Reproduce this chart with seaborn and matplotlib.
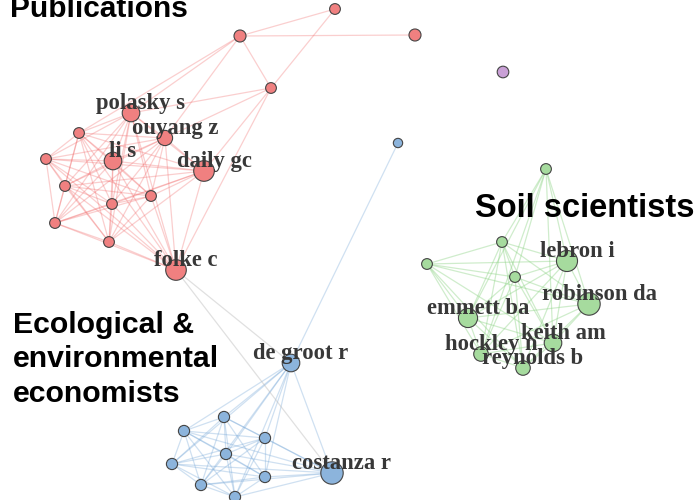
import itertools
import matplotlib
matplotlib.use("Agg")
import matplotlib.pyplot as plt
import seaborn as sns
import pandas as pd
from matplotlib.collections import LineCollection

# node layout (canvas units with y pointing down)
node_id = ["p1", "p2", "p3", "p4", "polasky s", "p5", "ouyang z", "li s", "daily gc",
           "p6", "p7", "p8", "p9", "p10", "p11", "folke c",
           "x1",
           "e0", "de groot r", "e1", "e2", "e3", "e4", "e5", "costanza r", "e6", "e7", "e8",
           "s1", "s2", "s3", "lebron i", "s4", "robinson da", "emmett ba", "keith am",
           "hockley n", "reynolds b"]
node_x = [335, 240, 415, 271, 131, 79, 165, 113, 204,
          46, 65, 151, 112, 55, 109, 176,
          503,
          398, 291, 224, 184, 265, 226, 172, 332, 265, 201, 235,
          546, 502, 427, 567, 515, 589, 468, 553, 481, 523]
node_y = [9, 36, 35, 88, 113, 133, 138, 161, 171,
          159, 186, 196, 204, 223, 242, 270,
          72,
          143, 363, 417, 431, 438, 454, 464, 473, 477, 485, 497,
          169, 242, 264, 261, 277, 304, 318, 343, 354, 368]
node_group = (["Publications"] * 16 + ["Other"] +
              ["Economists"] * 11 + ["Soil"] * 10)
node_weight = [1, 1.3, 1.3, 1, 3, 1, 2.2, 3, 4.2,
               1, 1, 1, 1, 1, 1, 4.2,
               1.2,
               0.7, 3, 1.1, 1.1, 1.1, 1.1, 1.1, 5, 1.1, 1.1, 1.1,
               1, 1, 1, 4.4, 1, 5, 3.6, 3, 2, 2]
labelled = ["polasky s", "ouyang z", "li s", "daily gc", "folke c", "de groot r",
            "costanza r", "lebron i", "robinson da", "emmett ba", "keith am",
            "hockley n", "reynolds b"]

pub_core = ["polasky s", "p5", "ouyang z", "li s", "daily gc", "p6", "p7", "p8",
            "p9", "p10", "p11", "folke c"]
pub_extra = [("p1", "p2"), ("p2", "p3"), ("p2", "p4"), ("p2", "polasky s"),
             ("p2", "ouyang z"), ("p1", "daily gc"), ("p4", "polasky s"),
             ("p4", "ouyang z"), ("p4", "folke c"), ("p2", "p5")]
eco_core = ["de groot r", "e1", "e2", "e3", "e4", "e5", "costanza r", "e6", "e7", "e8"]
eco_extra = [("e0", "de groot r")]
soil_core = ["s2", "s3", "lebron i", "s4", "robinson da", "emmett ba", "keith am",
             "hockley n", "reynolds b"]
soil_extra = [("s1", "s2"), ("s1", "lebron i"), ("s1", "s4"), ("s1", "robinson da"),
              ("s1", "emmett ba"), ("s1", "hockley n"), ("s1", "keith am")]
cross_edges = [("folke c", "de groot r"), ("folke c", "costanza r")]

palette = {"Publications": "#F08080", "Economists": "#8CB4DC",
           "Soil": "#A6DB9E", "Other": "#C9A0D6"}

nodes = pd.DataFrame({"id": node_id, "x": node_x, "y": node_y,
                      "group": node_group, "weight": node_weight}).set_index("id", drop=False)

sns.set_theme(style="white")
fig = plt.figure(figsize=(6.95, 5), dpi=100)
ax = fig.add_axes([0, 0, 1, 1])


def draw_edges(pairs, color, alpha, lw=0.9):
    segs = [[(nodes.loc[a, "x"], nodes.loc[a, "y"]), (nodes.loc[b, "x"], nodes.loc[b, "y"])]
            for a, b in pairs]
    ax.add_collection(LineCollection(segs, colors=color, alpha=alpha, linewidths=lw, zorder=1))


draw_edges(list(itertools.combinations(pub_core, 2)) + pub_extra, "#F26D6D", 0.33)
draw_edges(list(itertools.combinations(eco_core, 2)) + eco_extra, "#6FA3D6", 0.33)
draw_edges(list(itertools.combinations(soil_core, 2)) + soil_extra, "#8ED486", 0.42)
draw_edges(cross_edges, "#BBBBBB", 0.45)

sns.scatterplot(data=nodes, x="x", y="y", hue="group", palette=palette,
                size="weight", sizes=(45, 260), edgecolor="#444444", linewidth=0.8,
                legend=False, ax=ax, zorder=3)

for name in labelled:
    ax.annotate(name, (nodes.loc[name, "x"], nodes.loc[name, "y"]),
                xytext=(7.2, 6.5), textcoords="offset points", ha="center", va="center",
                family="Liberation Serif", fontweight="bold", fontsize=16.3,
                color="#383838", zorder=4)

title_kw = dict(family="Liberation Sans", fontweight="bold", color="black", zorder=5)
ax.text(10, 17, "Publications", ha="left", va="baseline", fontsize=21.5, **title_kw)
ax.text(475, 217, "Soil scientists", ha="left", va="baseline", fontsize=23.5, **title_kw)
for line, base in zip(["Ecological &", "environmental", "economists"], [333, 367, 402]):
    ax.text(13, base, line, ha="left", va="baseline", fontsize=21.8, **title_kw)

ax.set_xlim(0, 695)
ax.set_ylim(500, 0)
ax.axis("off")
fig.savefig("out.png", dpi=100)
